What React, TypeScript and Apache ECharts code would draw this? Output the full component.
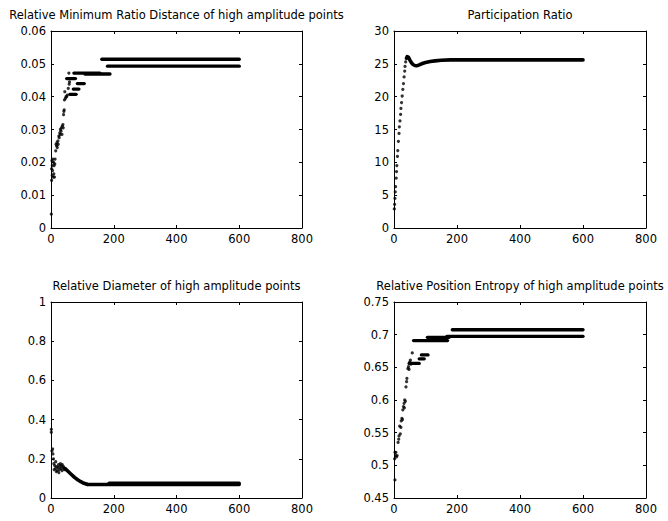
import React, { useEffect, useRef } from "react";
import * as echarts from "echarts";

// ---------- Tick labels / axis ranges ----------
const xTicks = [0, 200, 400, 600, 800];
const yRange1 = [0, 0.06, 0.01];
const yRange2 = [0, 30, 5];
const yRange3 = [0, 1, 0.2];
const yRange4 = [0.45, 0.75, 0.05];

// ---------- Titles ----------
const titles = [
  "Relative Minimum Ratio Distance of high amplitude points",
  "Participation Ratio",
  "Relative Diameter of high amplitude points",
  "Relative Position Entropy of high amplitude points",
];

// ---------- Panel 1: Relative Minimum Ratio Distance ----------
const p1Dots: [number, number][] = [
  [1, 0.0042], [2, 0.0145], [2, 0.018], [3, 0.0205], [4, 0.016], [4, 0.019], [5, 0.0175],
  [6, 0.021], [7, 0.0155], [8, 0.02], [9, 0.0165], [10, 0.019], [11, 0.0155], [12, 0.0195],
  [13, 0.021], [15, 0.0235], [16, 0.0255], [18, 0.025], [19, 0.026], [20, 0.0245],
  [22, 0.0265], [23, 0.0255], [25, 0.028], [26, 0.0275], [28, 0.029], [29, 0.0285],
  [30, 0.03], [32, 0.0295], [33, 0.0305], [35, 0.0285], [36, 0.031], [38, 0.0315],
  [39, 0.0305], [40, 0.0345], [41, 0.0355], [42, 0.036], [43, 0.039], [44, 0.0415],
  [46, 0.0395], [48, 0.04], [50, 0.04], [52, 0.0405], [55, 0.0425], [57, 0.0472],
  [58, 0.0438], [59, 0.0445],
];
// [xStart, xEnd, y]
const p1Runs: [number, number, number][] = [
  [50, 78, 0.0455], [60, 80, 0.0407], [71, 89, 0.0423], [84, 106, 0.044],
  [73, 156, 0.0472], [108, 188, 0.0469], [162, 600, 0.0514], [180, 600, 0.0493],
];

// ---------- Panel 2: Participation Ratio ----------
const p2Dots: [number, number][] = [
  [1, 2.9], [2, 3.6], [3, 4.5], [4, 5.5], [5, 6.3], [7, 7.6], [8, 8.6], [9, 9.5],
  [11, 10.9], [12, 11.8], [14, 13.2], [16, 14.4], [17, 15.4], [19, 16.3], [21, 17.3],
  [22, 18.2], [24, 19.1], [26, 20.1], [28, 21.1], [30, 22.0], [32, 23.0], [34, 23.9],
  [35, 24.6], [37, 25.3], [39, 25.8],
];
const p2Curve: [number, number][] = [
  [40, 25.9], [42, 26.1], [46, 26.0], [50, 25.6], [55, 25.2], [60, 24.9], [66, 24.75],
  [72, 24.7], [80, 24.85], [90, 25.05], [100, 25.2], [115, 25.35], [130, 25.45],
  [150, 25.55], [180, 25.6], [600, 25.6],
];

// ---------- Panel 3: Relative Diameter ----------
const p3Dots: [number, number][] = [
  [1, 0.35], [1, 0.335], [3, 0.24], [5, 0.25], [6, 0.225], [8, 0.2], [9, 0.175],
  [10, 0.145], [12, 0.165], [14, 0.15], [15, 0.185], [17, 0.135], [18, 0.16], [20, 0.14],
  [22, 0.155], [24, 0.17], [25, 0.13], [27, 0.145], [28, 0.16], [30, 0.175], [32, 0.15],
  [33, 0.165], [35, 0.14], [36, 0.17], [38, 0.155], [40, 0.16], [42, 0.145], [44, 0.15],
];
const p3Curve: [number, number][] = [
  [45, 0.15], [55, 0.135], [65, 0.12], [75, 0.105], [85, 0.093], [95, 0.083],
  [105, 0.075], [115, 0.07],
];
const p3Runs: [number, number, number][] = [
  [115, 600, 0.069], [185, 600, 0.076],
];

// ---------- Panel 4: Relative Position Entropy ----------
const p4Dots: [number, number][] = [
  [3, 0.4776], [2, 0.51], [3, 0.52], [5, 0.515], [6, 0.52], [8, 0.513], [10, 0.515],
  [13, 0.535], [15, 0.54], [16, 0.545], [18, 0.56], [20, 0.548], [22, 0.558], [23, 0.568],
  [25, 0.572], [27, 0.57], [28, 0.585], [30, 0.59], [32, 0.595], [33, 0.588], [34, 0.6],
  [36, 0.598], [38, 0.62], [40, 0.628], [41, 0.633], [44, 0.648], [46, 0.651], [48, 0.647],
  [50, 0.658], [52, 0.661], [54, 0.655], [58, 0.672],
];
const p4Runs: [number, number, number][] = [
  [48, 80, 0.656], [80, 96, 0.663], [87, 108, 0.669], [62, 170, 0.691],
  [106, 175, 0.696], [168, 600, 0.6975], [185, 600, 0.7075],
];

// ---------- Layout ----------
const grids = [
  { left: 51, top: 31, width: 251, height: 197 },
  { left: 394, top: 31, width: 252, height: 197 },
  { left: 51, top: 302, width: 251, height: 196 },
  { left: 394, top: 302, width: 252, height: 196 },
];
const titleTops = [9, 9, 280, 280];
const FONT = "DejaVu Sans";
const FS = 11.5;

function buildOption() {
  const yRanges = [yRange1, yRange2, yRange3, yRange4];
  const dots = [p1Dots, p2Dots, p3Dots, p4Dots];
  const curves: ([number, number][] | null)[] = [null, p2Curve, p3Curve, null];
  const runs: ([number, number, number][] | null)[] = [p1Runs, null, p3Runs, p4Runs];

  const xAxis: any[] = [];
  const yAxis: any[] = [];
  const series: any[] = [];

  const axisLine = { show: true, onZero: false, lineStyle: { color: "#000", width: 1 } };
  const axisTick = { show: true, inside: true, length: 3, lineStyle: { color: "#000", width: 1 } };

  grids.forEach((_, i) => {
    const [ymin, ymax, yint] = yRanges[i];
    ["bottom", "top"].forEach((pos, k) => {
      xAxis.push({
        type: "value",
        gridIndex: i,
        position: pos,
        min: xTicks[0],
        max: xTicks[xTicks.length - 1],
        interval: xTicks[1] - xTicks[0],
        axisLine,
        axisTick,
        splitLine: { show: false },
        axisLabel: {
          show: k === 0,
          color: "#000",
          fontFamily: FONT,
          fontSize: FS,
          margin: 5,
        },
      });
    });
    ["left", "right"].forEach((pos, k) => {
      yAxis.push({
        type: "value",
        gridIndex: i,
        position: pos,
        min: ymin,
        max: ymax,
        interval: yint,
        axisLine,
        axisTick,
        splitLine: { show: false },
        axisLabel: {
          show: k === 0,
          color: "#000",
          fontFamily: FONT,
          fontSize: FS,
          margin: 5,
          formatter: (v: number) => String(parseFloat(v.toFixed(4))),
        },
      });
    });

    const xi = 2 * i;
    const yi = 2 * i;
    series.push({
      type: "scatter",
      xAxisIndex: xi,
      yAxisIndex: yi,
      data: dots[i],
      symbol: "circle",
      symbolSize: 3.2,
      itemStyle: { color: "#000" },
      silent: true,
    });
    const c = curves[i];
    if (c) {
      series.push({
        type: "line",
        xAxisIndex: xi,
        yAxisIndex: yi,
        data: c,
        showSymbol: false,
        symbol: "none",
        lineStyle: { color: "#000", width: 3.6, cap: "round", join: "round" },
        silent: true,
      });
    }
    const r = runs[i];
    if (r) {
      r.forEach(([x0, x1, y]) => {
        series.push({
          type: "line",
          xAxisIndex: xi,
          yAxisIndex: yi,
          data: [
            [x0, y],
            [x1, y],
          ],
          showSymbol: false,
          symbol: "none",
          lineStyle: { color: "#000", width: 3.3, cap: "round" },
          silent: true,
        });
      });
    }
  });

  const title = titles.map((t, i) => ({
    text: t,
    left: grids[i].left + grids[i].width / 2,
    top: titleTops[i],
    textAlign: "center",
    padding: 0,
    textStyle: {
      color: "#000",
      fontFamily: FONT,
      fontSize: FS,
      fontWeight: "normal",
    },
  }));

  return {
    animation: false,
    backgroundColor: "#fff",
    title,
    grid: grids.map((g) => ({ ...g, containLabel: false })),
    xAxis,
    yAxis,
    series,
  };
}

export default function App() {
  const ref = useRef<HTMLDivElement>(null);
  useEffect(() => {
    document.body.style.margin = "0";
    if (!ref.current) return;
    const chart = echarts.init(ref.current, undefined, { renderer: "svg" });
    chart.setOption(buildOption() as any);
    return () => chart.dispose();
  }, []);
  return <div ref={ref} style={{ width: 668, height: 521 }} />;
}
